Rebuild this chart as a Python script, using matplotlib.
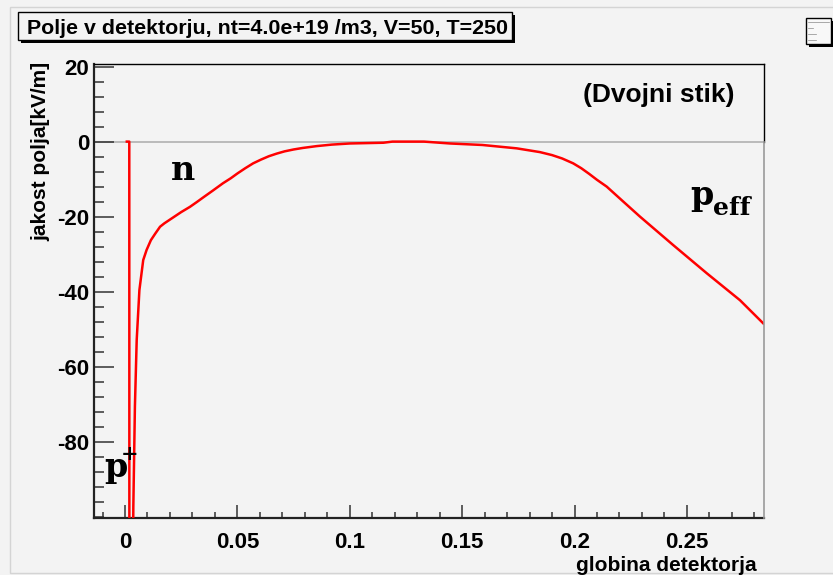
import matplotlib
matplotlib.use("Agg")
import matplotlib.pyplot as plt
from matplotlib.patches import Rectangle
from matplotlib.lines import Line2D
from matplotlib.ticker import MultipleLocator

# globina [m] in jakost polja [kV/m]
globina = [0.0008, 0.0019, 0.0020, 0.0030, 0.0037, 0.0044, 0.0052, 0.0064,
           0.0081, 0.0096, 0.0115, 0.0135, 0.0156, 0.0175, 0.0200, 0.0225,
           0.0250, 0.0289, 0.0320, 0.0350, 0.0390, 0.0436, 0.0470, 0.0500,
           0.0535, 0.0570, 0.0605, 0.0640, 0.0675, 0.0710, 0.0750, 0.0790,
           0.0853, 0.0920, 0.1000, 0.1150, 0.1190, 0.1330, 0.1446, 0.1590,
           0.1743, 0.1846, 0.1900, 0.1945, 0.1994, 0.2030, 0.2065, 0.2100,
           0.2143, 0.2215, 0.2291, 0.2439, 0.2588, 0.2736, 0.2840]
polje = [0.0, 0.0, -300.0, -160.0, -97.4, -70.7, -52.9, -39.6,
         -31.6, -28.9, -26.3, -24.5, -22.7, -21.8, -20.8, -19.8,
         -18.8, -17.4, -16.1, -14.8, -13.1, -11.1, -9.8, -8.5,
         -7.1, -5.8, -4.8, -3.9, -3.2, -2.6, -2.1, -1.7,
         -1.2, -0.8, -0.5, -0.3, 0.0, 0.0, -0.5, -0.9,
         -1.8, -2.8, -3.6, -4.5, -5.8, -7.1, -8.6, -10.2,
         -12.0, -15.9, -20.0, -27.6, -35.1, -42.3, -48.5]

naslov = "Polje v detektorju, nt=4.0e+19 /m3, V=50, T=250"
x_oznaka = "globina detektorja"
y_oznaka = "jakost polja[kV/m]"
x_oznake = ["0", "0.05", "0.1", "0.15", "0.2", "0.25"]
x_vrednosti = [0, 0.05, 0.1, 0.15, 0.2, 0.25]
y_vrednosti = [20, 0, -20, -40, -60, -80]

W, H = 833, 575
bg = "#f3f3f3"

plt.rcParams["font.family"] = ["Liberation Sans", "DejaVu Sans"]
plt.rcParams["axes.unicode_minus"] = False
fig = plt.figure(figsize=(W / 100, H / 100), dpi=100, facecolor=bg)


def fx(px):
    return px / W


def fy(py):
    return 1 - py / H


def okvir(x0, y0, x1, y1, **kw):
    fig.add_artist(Rectangle((fx(x0), fy(y1)), fx(x1) - fx(x0), fy(y0) - fy(y1),
                             transform=fig.transFigure, **kw))


# zunanji okvir
okvir(10, 7, 845, 573, facecolor="none", edgecolor="#d4d4d4", lw=1)

ax = fig.add_axes([fx(94), fy(518), fx(764) - fx(94), fy(64) - fy(518)])
ax.set_facecolor(bg)
xmin, xmax = -0.0138, 0.2843
ymin, ymax = -100.4, 20.7
ax.set_xlim(xmin, xmax)
ax.set_ylim(ymin, ymax)

ax.axhline(0, color="#b0b0b0", lw=1.2, zorder=1)
ax.plot(globina, polje, color="red", lw=1.8, zorder=3)

for s in ["left", "bottom"]:
    ax.spines[s].set_linewidth(1.6)
    ax.spines[s].set_color("#222222")
ax.spines["top"].set_linewidth(1.0)
ax.spines["top"].set_color("black")
ax.spines["right"].set_visible(False)
ax.plot([xmax, xmax], [0, ymax], color="black", lw=1.0, clip_on=False, zorder=4)
ax.plot([xmax, xmax], [ymin, 0], color="#999999", lw=1.2, clip_on=False, zorder=4)

ax.xaxis.set_minor_locator(MultipleLocator(0.01))
ax.yaxis.set_minor_locator(MultipleLocator(4))
ax.set_xticks(x_vrednosti)
ax.set_xticklabels(x_oznake)
ax.set_yticks(y_vrednosti)
ax.tick_params(axis="x", which="major", direction="in", length=9.5, width=1.1,
               color="#333333", labelsize=16, pad=10)
ax.tick_params(axis="x", which="minor", direction="in", length=4.5, width=1.1,
               color="#333333")
ax.tick_params(axis="y", which="major", direction="in", length=14.4, width=1.1,
               color="#333333", labelsize=16, pad=3.5)
ax.tick_params(axis="y", which="minor", direction="in", length=7, width=1.1,
               color="#333333")
for lab in ax.get_xticklabels() + ax.get_yticklabels():
    lab.set_fontweight("bold")

fig.text(fx(757), fy(571), x_oznaka, ha="right", va="baseline",
         fontsize=15, fontweight="bold")
fig.text(fx(41), fy(62), y_oznaka, ha="center", va="top", rotation=90,
         fontsize=15, fontweight="bold")

# naslov v okvirju s senco
okvir(21, 15, 515, 43, facecolor="black", edgecolor="none")
okvir(18, 12, 512, 40, facecolor=bg, edgecolor="black", lw=1)
fig.text(fx(267.5), fy(33.5), naslov, ha="center", va="baseline",
         fontsize=15.4, fontweight="bold")

# majhna legenda zgoraj desno
okvir(809, 21, 836, 47, facecolor="black", edgecolor="none")
okvir(806, 18, 831, 44, facecolor="#f8f8f8", edgecolor="black", lw=1)
for yy, x1 in [(22, 829), (28, 813), (34, 816), (40, 816)]:
    fig.add_artist(Line2D([fx(808), fx(x1)], [fy(yy), fy(yy)], color="#888888",
                          lw=0.5, transform=fig.transFigure))

ax.text(0.2375, 12.4, "(Dvojni stik)", ha="center", va="center",
        fontsize=19, fontweight="bold")

serif = "DejaVu Serif"
ax.text(0.0258, -7.6, "n", family=serif, fontweight="bold", fontsize=24,
        ha="center", va="center")
ax.text(0.2567, -14.5, "p", family=serif, fontweight="bold", fontsize=24,
        ha="center", va="center")
ax.text(0.2700, -17.7, "eff", family=serif, fontweight="bold", fontsize=18,
        ha="center", va="center")
ax.text(-0.0040, -87.0, "p", family=serif, fontweight="bold", fontsize=24,
        ha="center", va="center")
ax.text(0.0021, -83.4, "+", family=serif, fontweight="bold", fontsize=15,
        ha="center", va="center")

fig.savefig("out.png", dpi=100, facecolor=bg)
